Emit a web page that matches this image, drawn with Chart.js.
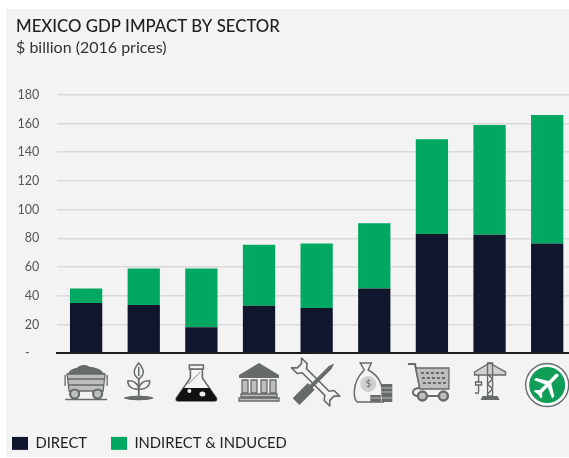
<!DOCTYPE html>
<html>
<head>
<meta charset="utf-8">
<style>
  html, body { margin: 0; padding: 0; background: #fff; overflow: hidden; }
  #wrap { position: relative; width: 569px; height: 458px; overflow: hidden; }
  #panel { position: absolute; left: 6px; top: 9px; right: 0; bottom: 1px; background: #f3f3f3; }
  #box { position: absolute; left: 0; top: 0; width: 576px; height: 458px; }
</style>
<script src="https://cdn.jsdelivr.net/npm/chart.js@4"></script>
</head>
<body>
<div id="wrap">
  <div id="panel"></div>
  <div id="box"><canvas id="chartSector"></canvas></div>
</div>
<script>
// Sectors are shown only as icons in the picture, labels are for the data
const sectors = ['Mining', 'Agriculture', 'Chemicals', 'Financial services', 'Manufacturing', 'Other services', 'Retail', 'Construction', 'Travel & tourism'];
const direct = [35, 33.5, 18, 33, 31.5, 45, 83, 82.5, 76.5];
const indirect = [10, 25.5, 41, 42.5, 45, 45.5, 66, 76.5, 89.5];
const yTicks = [0, 20, 40, 60, 80, 100, 120, 140, 160, 180];

const DARK = '#10162b';
const GREEN = '#00a862';
const ICON = '#666a6a';
const LIGHT = '#bdbfbd';

// Iconos: x offset from the bar centre + draw function, origin at (centre, 382)
function p(ctx, d, fill, stroke, lw) {
  const path = new Path2D(d);
  if (fill) { ctx.fillStyle = fill; ctx.fill(path); }
  if (stroke) { ctx.strokeStyle = stroke; ctx.lineWidth = lw || 1.3; ctx.stroke(path); }
}
const icons = [
  [0, ctx => { // mine cart
    p(ctx, 'M-18 -8C-16 -14 -11 -13 -8 -15C-4 -18 1 -17 4 -15C9 -15 15 -13 18 -8Z', ICON);
    p(ctx, 'M-19 -8H19L17 9H-17Z', LIGHT, ICON);
    p(ctx, 'M-18 -3H18M-18 3H18M-21 -7V4M21 -7V4', null, ICON);
    p(ctx, 'M-7 12a4.5 4.5 0 1 1 -9 0a4.5 4.5 0 1 1 9 0ZM16 12a4.5 4.5 0 1 1 -9 0a4.5 4.5 0 1 1 9 0Z', LIGHT, ICON, 2.2);
    p(ctx, 'M-21 17.5H21', null, ICON);
  }],
  [-5, ctx => { // plant
    p(ctx, 'M-15 16C-12 13 12 13 15 16C12 19 -12 19 -15 16Z', ICON);
    p(ctx, 'M0 14V-3', null, ICON, 1.8);
    p(ctx, 'M0 -3C-7 -8 -5 -13 0 -19C5 -13 7 -8 0 -3ZM0 -15V-6', '#f3f3f3', ICON, 1.5);
    p(ctx, 'M0 7C-7 8 -11 4 -11 -1C-6 -2 -1 1 0 7ZM0 7C7 8 11 4 11 -1C6 -2 1 1 0 7Z', '#f3f3f3', ICON, 1.5);
  }],
  [-5, ctx => { // flask
    p(ctx, 'M-6 -13V-4L-20 16Q-21 19 -18 19H18Q21 19 20 16L6 -4V-13Z', '#f3f3f3', ICON, 1.6);
    p(ctx, 'M-7 -17H7V-13H-7Z', '#f3f3f3', ICON, 1.6);
    p(ctx, 'M-13 6H13L20 16Q21 19 18 19H-18Q-21 19 -20 16Z', '#111');
    p(ctx, 'M-5 9a2 2 0 1 1 -4 0a2 2 0 1 1 4 0ZM9 12a3 2.5 0 1 1 -6 0a3 2.5 0 1 1 6 0Z', '#eee');
    p(ctx, 'M-8 2L4 -10', null, ICON, 0.8);
  }],
  [0, ctx => { // bank
    p(ctx, 'M0 -19L20 -7V-4H-20V-7Z', ICON);
    p(ctx, 'M-17 -2H-11V11H-17ZM-8 -2H-2V11H-8ZM2 -2H8V11H2ZM11 -2H17V11H11Z', LIGHT, ICON);
    p(ctx, 'M-18 12H18V15H-18ZM-20 16H20V19H-20Z', LIGHT, ICON);
  }],
  [-1, ctx => { // tools
    ctx.save();
    ctx.rotate(Math.PI / 4);
    ctx.lineJoin = 'round';
    p(ctx, 'M-16 -3H16L19 -7H27L23 -3V3L27 7H19L16 3H-16L-19 7H-27L-23 3V-3L-27 -7H-19Z', '#f3f3f3', ICON, 1.6);
    ctx.restore();
    ctx.save();
    ctx.rotate(-Math.PI / 4);
    ctx.lineJoin = 'round';
    p(ctx, 'M-27 -4H-7V4H-27Z', ICON, ICON, 1.6);
    p(ctx, 'M-7 -1.5H20L25 0L20 1.5H-7Z', ICON, ICON, 1);
    ctx.restore();
  }],
  [0, ctx => { // money bag
    p(ctx, 'M-14 -19H-3L-6 -12C5 -6 9 2 9 20H-17C-20 18 -20 14 -20 10C-20 0 -15 -7 -10 -12Z', '#f3f3f3', ICON, 1.5);
    p(ctx, 'M2 2a8 8 0 1 1 -16 0a8 8 0 1 1 16 0Z', '#cfd0cf');
    ctx.fillStyle = ICON;
    ctx.font = '10px Lato';
    ctx.textAlign = 'center';
    ctx.textBaseline = 'middle';
    ctx.fillText('$', -6, 2);
    p(ctx, 'M-4 13H7V2H18V20H-4Z', ICON);
    p(ctx, 'M-4 16H18M7 10H18M7 6H18M7 13V20', null, '#cfd0cf', 0.8);
  }],
  [0, ctx => { // cart
    p(ctx, 'M-24 -18H-17L-12 6C-21 6 -21 14 -14 14H16', null, ICON, 2);
    p(ctx, 'M-16 -14H17V7H-12Z', LIGHT, ICON, 1.3);
    ctx.setLineDash([3, 2]);
    p(ctx, 'M-11 -9H14M-10 -4H14M-9 1H14', null, ICON, 2);
    ctx.setLineDash([]);
    p(ctx, 'M-5 14a4.5 4.5 0 1 1 -9 0a4.5 4.5 0 1 1 9 0ZM16 14a4.5 4.5 0 1 1 -9 0a4.5 4.5 0 1 1 9 0Z', LIGHT, ICON, 2.4);
  }],
  [0, ctx => { // crane
    p(ctx, 'M-15 -10L0 -19L16 -10V-7H-15Z', '#d0d0d0', ICON, 1.4);
    p(ctx, 'M-2 -19V14H3V-19ZM-2 -8L3 -3L-2 2L3 7L-2 12', null, ICON, 1.4);
    p(ctx, 'M-7 14H8L10 18H-9Z', ICON);
    p(ctx, 'M-11 -7V0M-14 0H-8V3H-14ZM-11 3V10C-11 12 -14 12 -14 10', null, ICON, 1.4);
  }],
  [0, ctx => { // plane in a green circle
    ctx.beginPath(); ctx.arc(0, 3, 21.5, 0, Math.PI * 2);
    ctx.fillStyle = '#fff'; ctx.fill();
    ctx.strokeStyle = ICON; ctx.lineWidth = 1.4; ctx.stroke();
    ctx.beginPath(); ctx.arc(0, 3, 18, 0, Math.PI * 2);
    ctx.fillStyle = '#0f9d58'; ctx.fill();
    ctx.translate(0, 3); ctx.rotate(Math.PI / 4);
    p(ctx, 'M-1.8 -14Q0 -17 1.8 -14V-4L13 3V6L1.8 1V9L5 12V14L0 13L-5 14V12L-1.8 9V1L-13 6V3L-1.8 -4Z', '#fff');
  }]
];

// Dibuja los iconos debajo de cada barra, usando la escala x
const iconPlugin = {
  id: 'sectorIcons',
  afterDraw(chart) {
    const ctx = chart.ctx;
    const xs = chart.scales.x;
    icons.forEach((ic, i) => {
      ctx.save();
      ctx.translate(xs.getPixelForValue(i) + ic[0], 382);
      ic[1](ctx);
      ctx.restore();
    });
  }
};

// Mueve la leyenda a su sitio (la leyenda suma su padding al borde izquierdo)
const legendPlugin = {
  id: 'legendSpot',
  afterLayout(chart) {
    chart.legend.left = -12;
    chart.legend.top = 412;
  }
};

const ctxSector = document.getElementById('chartSector').getContext('2d');

const chartSector = new Chart(ctxSector, {
  type: 'bar',
  data: {
    labels: sectors,
    datasets: [
      { label: 'DIRECT', data: direct, backgroundColor: DARK, stack: 'gdp' },
      { label: 'INDIRECT & INDUCED', data: indirect, backgroundColor: GREEN, stack: 'gdp' }
    ]
  },
  plugins: [iconPlugin, legendPlugin],
  options: {
    responsive: true,
    maintainAspectRatio: false,
    animation: false,
    layout: { padding: { left: 16, top: 17, right: 0, bottom: 0 } },
    datasets: { bar: { categoryPercentage: 0.56, barPercentage: 1 } },
    plugins: {
      title: {
        display: true,
        text: 'MEXICO GDP IMPACT BY SECTOR',
        align: 'start',
        color: '#222222',
        font: { family: 'Lato', size: 16.8, weight: '500' },
        padding: { top: 0, bottom: 1 }
      },
      subtitle: {
        display: true,
        text: '$ billion (2016 prices)',
        align: 'start',
        color: '#333333',
        font: { family: 'Lato', size: 16, weight: '400' },
        padding: { top: 0, bottom: 37.5 }
      },
      legend: {
        position: 'bottom',
        align: 'start',
        labels: {
          color: '#222222',
          font: { family: 'Lato', size: 14.8 },
          boxWidth: 16,
          boxHeight: 13,
          padding: 24
        }
      },
      tooltip: { enabled: true }
    },
    scales: {
      x: {
        stacked: true,
        ticks: { display: false },
        grid: { display: false },
        border: { display: true, color: '#1c1c1c', width: 2, z: 2 },
        afterFit: s => { s.height = 56; }
      },
      y: {
        stacked: true,
        min: 0,
        max: 180,
        afterBuildTicks: s => { s.ticks = yTicks.map(v => ({ value: v })); },
        afterFit: s => { s.width = 41.3; },
        ticks: {
          color: '#555555',
          font: { family: 'Lato', size: 12.5 },
          padding: 18,
          callback: v => (v === 0 ? '-   ' : v)
        },
        grid: {
          color: '#d9d9d9',
          lineWidth: 1.6,
          drawTicks: false
        },
        border: { display: false }
      }
    }
  }
});
</script>
</body>
</html>
